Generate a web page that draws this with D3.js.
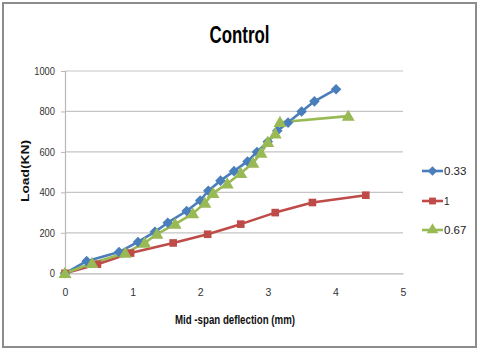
<!DOCTYPE html>
<html>
<head>
<meta charset="utf-8">
<script src="https://cdn.jsdelivr.net/npm/d3@7"></script>
<style>
  html, body { margin: 0; padding: 0; background: #fff; }
  svg { display: block; }
</style>
</head>
<body>
<svg id="chart" width="480" height="352"></svg>
<script>
// ---- Data ----
const seriesNames = ["0.33", "1", "0.67"];
const s033x = [0, 0.32, 0.8, 1.08, 1.33, 1.52, 1.8, 2.0, 2.12, 2.3, 2.5, 2.7, 2.84, 3.0, 3.14, 3.3, 3.5, 3.69, 4.01];
const s033y = [0, 60, 105, 155, 205, 250, 308, 360, 408, 458, 505, 553, 600, 650, 705, 745, 800, 850, 910];
const s1x = [0, 0.48, 0.97, 1.6, 2.11, 2.6, 3.11, 3.66, 4.45];
const s1y = [0, 45, 100, 150, 193, 243, 300, 350, 386];
const s067x = [0, 0.4, 0.89, 1.18, 1.36, 1.63, 1.89, 2.07, 2.19, 2.4, 2.6, 2.78, 2.9, 3.0, 3.11, 3.18, 4.19];
const s067y = [0, 50, 100, 150, 194, 243, 295, 347, 396, 443, 495, 545, 594, 648, 690, 747, 777];
const xTicks = [0, 1, 2, 3, 4, 5];
const yTicks = [0, 200, 400, 600, 800, 1000];
const titleText = "Control";
const xLabel = "Mid -span deflection (mm)";
const yLabel = "Load(KN)";

const colors = ["#4A7EBB", "#BE4B48", "#98B954"];
// square diamond (rotated square) like Excel's marker
const symbolSqDiamond = {
  draw(ctx, size) {
    const r = Math.sqrt(size / 2);
    ctx.moveTo(0, -r); ctx.lineTo(r, 0); ctx.lineTo(0, r); ctx.lineTo(-r, 0); ctx.closePath();
  }
};
const markerTypes = [symbolSqDiamond, d3.symbolSquare, d3.symbolTriangle];
const markerSizes = [56, 58, 72];

const series = [
  { name: seriesNames[0], pts: s033x.map((x, i) => [x, s033y[i]]) },
  { name: seriesNames[1], pts: s1x.map((x, i) => [x, s1y[i]]) },
  { name: seriesNames[2], pts: s067x.map((x, i) => [x, s067y[i]]) }
];

const svg = d3.select("#chart");
const font = "'Liberation Sans', Arial, sans-serif";

// outer border
svg.append("rect").attr("x", 3).attr("y", 3).attr("width", 473).attr("height", 344)
  .attr("fill", "#fff").attr("stroke", "#8c8c8c").attr("stroke-width", 2);

const plot = { left: 65, right: 403, top: 71, bottom: 273.3 };
const x = d3.scaleLinear().domain([0, 5]).range([plot.left, plot.right]);
const y = d3.scaleLinear().domain([0, 1000]).range([plot.bottom, plot.top]);

// gridlines
svg.append("g").selectAll("line").data(yTicks.filter(t => t > 0)).join("line")
  .attr("x1", plot.left).attr("x2", plot.right)
  .attr("y1", d => y(d)).attr("y2", d => y(d))
  .attr("stroke", "#c4c4c4").attr("stroke-width", 1.2);

// axes
const yAxis = svg.append("g").attr("transform", `translate(${plot.left},0)`)
  .call(d3.axisLeft(y).tickValues(yTicks).tickFormat(d3.format("d")).tickSize(4).tickPadding(6));
const xAxis = svg.append("g").attr("transform", `translate(0,${plot.bottom})`)
  .call(d3.axisBottom(x).tickValues(xTicks).tickFormat(d3.format("d")).tickSize(0).tickPadding(15));
[yAxis, xAxis].forEach(a => {
  a.select(".domain").attr("stroke", "#b8b8b8").attr("stroke-width", 1.2);
  a.selectAll(".tick line").attr("stroke", "#b8b8b8");
  a.selectAll("text").attr("font-family", font).attr("font-size", 10.5).attr("fill", "#333");
});
yAxis.selectAll(".tick text").each(function() {
  const t = d3.select(this);
  const n = t.text().length;
  t.attr("textLength", n * 5.2).attr("lengthAdjust", "spacingAndGlyphs");
});

// lines + markers
const line = d3.line().x(d => x(d[0])).y(d => y(d[1]));
series.forEach((s, i) => {
  svg.append("path").datum(s.pts).attr("d", line)
    .attr("fill", "none").attr("stroke", colors[i]).attr("stroke-width", 2.6)
    .attr("stroke-linejoin", "round");
});
series.forEach((s, i) => {
  svg.append("g").selectAll("path").data(s.pts).join("path")
    .attr("transform", d => `translate(${x(d[0])},${y(d[1]) + (i === 2 ? 1 : 0)})`)
    .attr("d", d3.symbol().type(markerTypes[i]).size(markerSizes[i]))
    .attr("fill", colors[i]);
});

// title
svg.append("text").attr("x", 239.5).attr("y", 43).attr("text-anchor", "middle")
  .attr("font-family", font).attr("font-weight", "bold").attr("font-size", 23)
  .attr("textLength", 60).attr("lengthAdjust", "spacingAndGlyphs")
  .attr("fill", "#000").text(titleText);

// axis labels
svg.append("text").attr("x", 175).attr("y", 324)
  .attr("font-family", font).attr("font-weight", "bold").attr("font-size", 12)
  .attr("textLength", 120).attr("lengthAdjust", "spacingAndGlyphs")
  .attr("fill", "#111").text(xLabel);
svg.append("text").attr("transform", "translate(29,202) rotate(-90)")
  .attr("font-family", font).attr("font-weight", "bold").attr("font-size", 10.5)
  .attr("textLength", 62).attr("lengthAdjust", "spacingAndGlyphs")
  .attr("fill", "#111").text(yLabel);

// legend
const legendY = [171, 201, 230];
const lg = svg.append("g");
series.forEach((s, i) => {
  const g = lg.append("g").attr("transform", `translate(0,${legendY[i]})`);
  g.append("line").attr("x1", 422).attr("x2", 443).attr("y1", 0).attr("y2", 0)
    .attr("stroke", colors[i]).attr("stroke-width", 2.6);
  g.append("path").attr("transform", "translate(432.5,0)")
    .attr("d", d3.symbol().type(markerTypes[i]).size(markerSizes[i] * 0.8))
    .attr("fill", colors[i]);
  g.append("text").attr("x", 444).attr("y", 4).attr("font-family", font)
    .attr("font-size", 11.5).attr("fill", "#222")
    .attr("textLength", s.name.length * 5.6).attr("lengthAdjust", "spacingAndGlyphs")
    .text(s.name);
});
</script>
</body>
</html>
